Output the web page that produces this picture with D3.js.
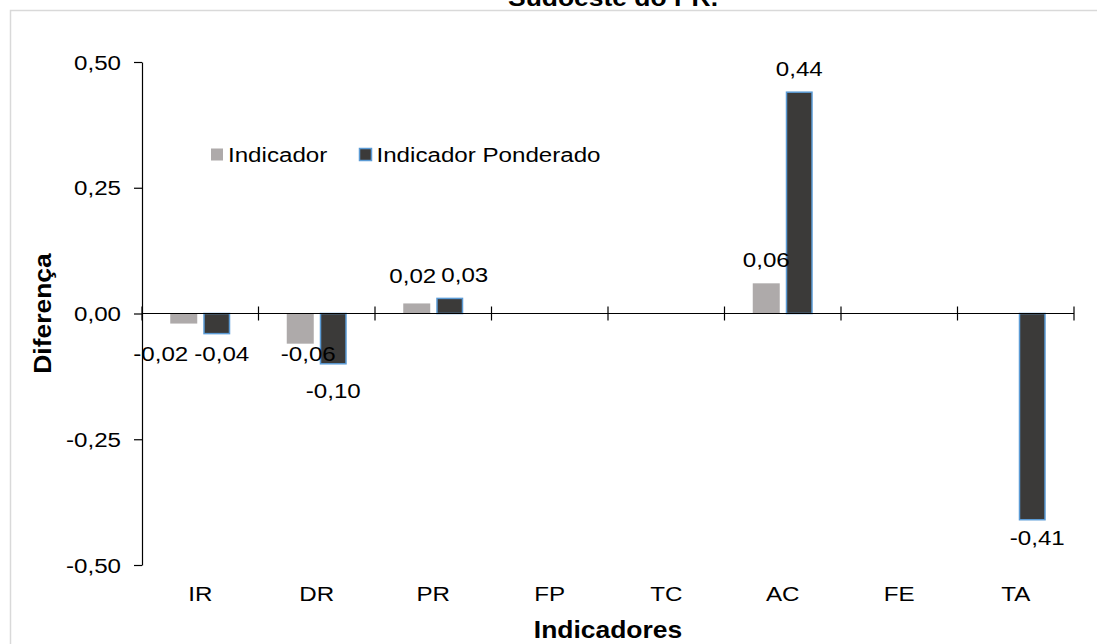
<!DOCTYPE html>
<html>
<head>
<meta charset="utf-8">
<script src="https://cdn.jsdelivr.net/npm/d3@7"></script>
<style>
  html, body { margin: 0; padding: 0; background: #fff; }
  svg { display: block; font-family: "Liberation Sans", Arial, sans-serif; }
</style>
</head>
<body>
<svg id="chart" width="1097" height="644"></svg>
<script>
// Indicators and differences per series
const categories = ["IR", "DR", "PR", "FP", "TC", "AC", "FE", "TA"];
const indicador = [-0.02, -0.06, 0.02, 0, 0, 0.06, 0, 0];
const indicadorPonderado = [-0.04, -0.10, 0.03, 0, 0, 0.44, 0, -0.41];
const yTicks = [-0.5, -0.25, 0, 0.25, 0.5];
const seriesNames = ["Indicador", "Indicador Ponderado"];

const svg = d3.select("#chart");
const W = 1097, H = 644;
const STRETCH = 1.15;      // horizontal widening of all lettering
const FS = 21, FS_BOLD = 23;

// text helper: places a horizontally widened label at (x, y)
function label(parent, x, y, txt, opts = {}) {
  return parent.append("text")
    .attr("transform", `translate(${x},${y}) scale(${STRETCH},1)${opts.rotate ? ` rotate(${opts.rotate})` : ""}`)
    .attr("text-anchor", opts.anchor || "middle")
    .attr("font-size", opts.bold ? FS_BOLD : FS)
    .attr("font-weight", opts.bold ? "bold" : "normal")
    .attr("fill", "#000")
    .text(txt);
}

// chart area frame
svg.append("rect")
  .attr("x", 10.5).attr("y", 10.5)
  .attr("width", W + 10).attr("height", H + 10)
  .attr("fill", "#fff").attr("stroke", "#d9d9d9").attr("stroke-width", 1.5);

// title (its upper part runs past the page edge)
label(svg, 613, 6, "Sudoeste do PR.", { bold: true });

const plot = { left: 142, right: 1074, top: 62, bottom: 565 };

const x = d3.scaleBand()
  .domain(categories)
  .range([plot.left, plot.right])
  .paddingInner(0).paddingOuter(0);

const y = d3.scaleLinear()
  .domain([-0.5, 0.5])
  .range([plot.bottom, plot.top]);

const fmt = v => d3.format(".2f")(v).replace(".", ",").replace("−", "-");

const barW = 27, gap = 6;
const series = [
  { name: seriesNames[0], values: indicador, fill: "#aeaaaa", stroke: "none", off: -gap / 2 - barW },
  { name: seriesNames[1], values: indicadorPonderado, fill: "#3b3a39", stroke: "#5b9bd5", off: gap / 2 }
];

// bars
series.forEach((s, si) => {
  svg.append("g").selectAll("rect")
    .data(categories.map((c, i) => ({ c, v: s.values[i] })).filter(d => d.v !== 0))
    .join("rect")
    .attr("x", d => x(d.c) + x.bandwidth() / 2 + s.off + (si ? 0.75 : 0))
    .attr("y", d => y(Math.max(0, d.v)))
    .attr("width", barW - (si ? 1.5 : 0))
    .attr("height", d => Math.abs(y(d.v) - y(0)))
    .attr("fill", s.fill)
    .attr("stroke", s.stroke)
    .attr("stroke-width", 1.5);
});

// y axis
const yAxis = d3.axisLeft(y)
  .tickValues(yTicks)
  .tickSize(8)
  .tickSizeOuter(0)
  .tickFormat("");
const gy = svg.append("g")
  .attr("transform", `translate(${plot.left},0)`)
  .call(yAxis);
gy.select(".domain").attr("stroke", "#000").attr("stroke-width", 1.2);
gy.selectAll(".tick line").attr("stroke", "#000").attr("stroke-width", 1.2);
yTicks.forEach(t => label(svg, plot.left - 21, y(t) + 7.5, fmt(t), { anchor: "end" }));

// x axis along zero, ticks crossing the line at category boundaries
const gx = svg.append("g");
gx.append("line")
  .attr("x1", plot.left).attr("x2", plot.right)
  .attr("y1", y(0)).attr("y2", y(0))
  .attr("stroke", "#000").attr("stroke-width", 1.2);
const bounds = categories.map(c => x(c)).concat([x(categories[categories.length - 1]) + x.bandwidth()]);
gx.selectAll("line.tk")
  .data(bounds)
  .join("line")
  .attr("class", "tk")
  .attr("x1", d => d).attr("x2", d => d)
  .attr("y1", y(0) - 7).attr("y2", y(0) + 7)
  .attr("stroke", "#000").attr("stroke-width", 1.2);

// category labels at the bottom
const gc = svg.append("g");
categories.forEach(c => label(gc, x(c) + x.bandwidth() / 2, 601, c));

// axis titles
label(svg, (plot.left + plot.right) / 2, 638, "Indicadores", { bold: true });
svg.append("text")
  .attr("transform", `translate(51,${y(0)}) rotate(-90) scale(${STRETCH},1)`)
  .attr("text-anchor", "middle")
  .attr("font-weight", "bold").attr("font-size", FS_BOLD)
  .text("Diferença");

// value labels, with manual placement tweaks
const labelNudge = {
  "Indicador|IR": [-23, 12],
  "Indicador Ponderado|IR": [5, 2],
  "Indicador|DR": [8, -8],
  "Indicador Ponderado|DR": [0, 9],
  "Indicador|PR": [-4, -4],
  "Indicador Ponderado|PR": [15, 0],
  "Indicador Ponderado|TA": [5, 0]
};
const gl = svg.append("g");
series.forEach(s => {
  categories.forEach((c, i) => {
    const v = s.values[i];
    if (v === 0) return;
    const cx = x(c) + x.bandwidth() / 2 + s.off + barW / 2;
    const by = v > 0 ? y(v) - 16 : y(v) + 25;
    const n = labelNudge[s.name + "|" + c] || [0, 0];
    label(gl, cx + n[0], by + n[1], fmt(v));
  });
});

// legend
const legend = svg.append("g");
const legendItems = [
  { name: seriesNames[0], x: 211, fill: "#aeaaaa", stroke: "none" },
  { name: seriesNames[1], x: 359.5, fill: "#3b3a39", stroke: "#5b9bd5" }
];
legendItems.forEach(it => {
  legend.append("rect")
    .attr("x", it.x).attr("y", 148.5).attr("width", 12).attr("height", 12)
    .attr("fill", it.fill).attr("stroke", it.stroke).attr("stroke-width", 1.5);
  label(legend, it.x + 17, 162, it.name, { anchor: "start" });
});
</script>
</body>
</html>
